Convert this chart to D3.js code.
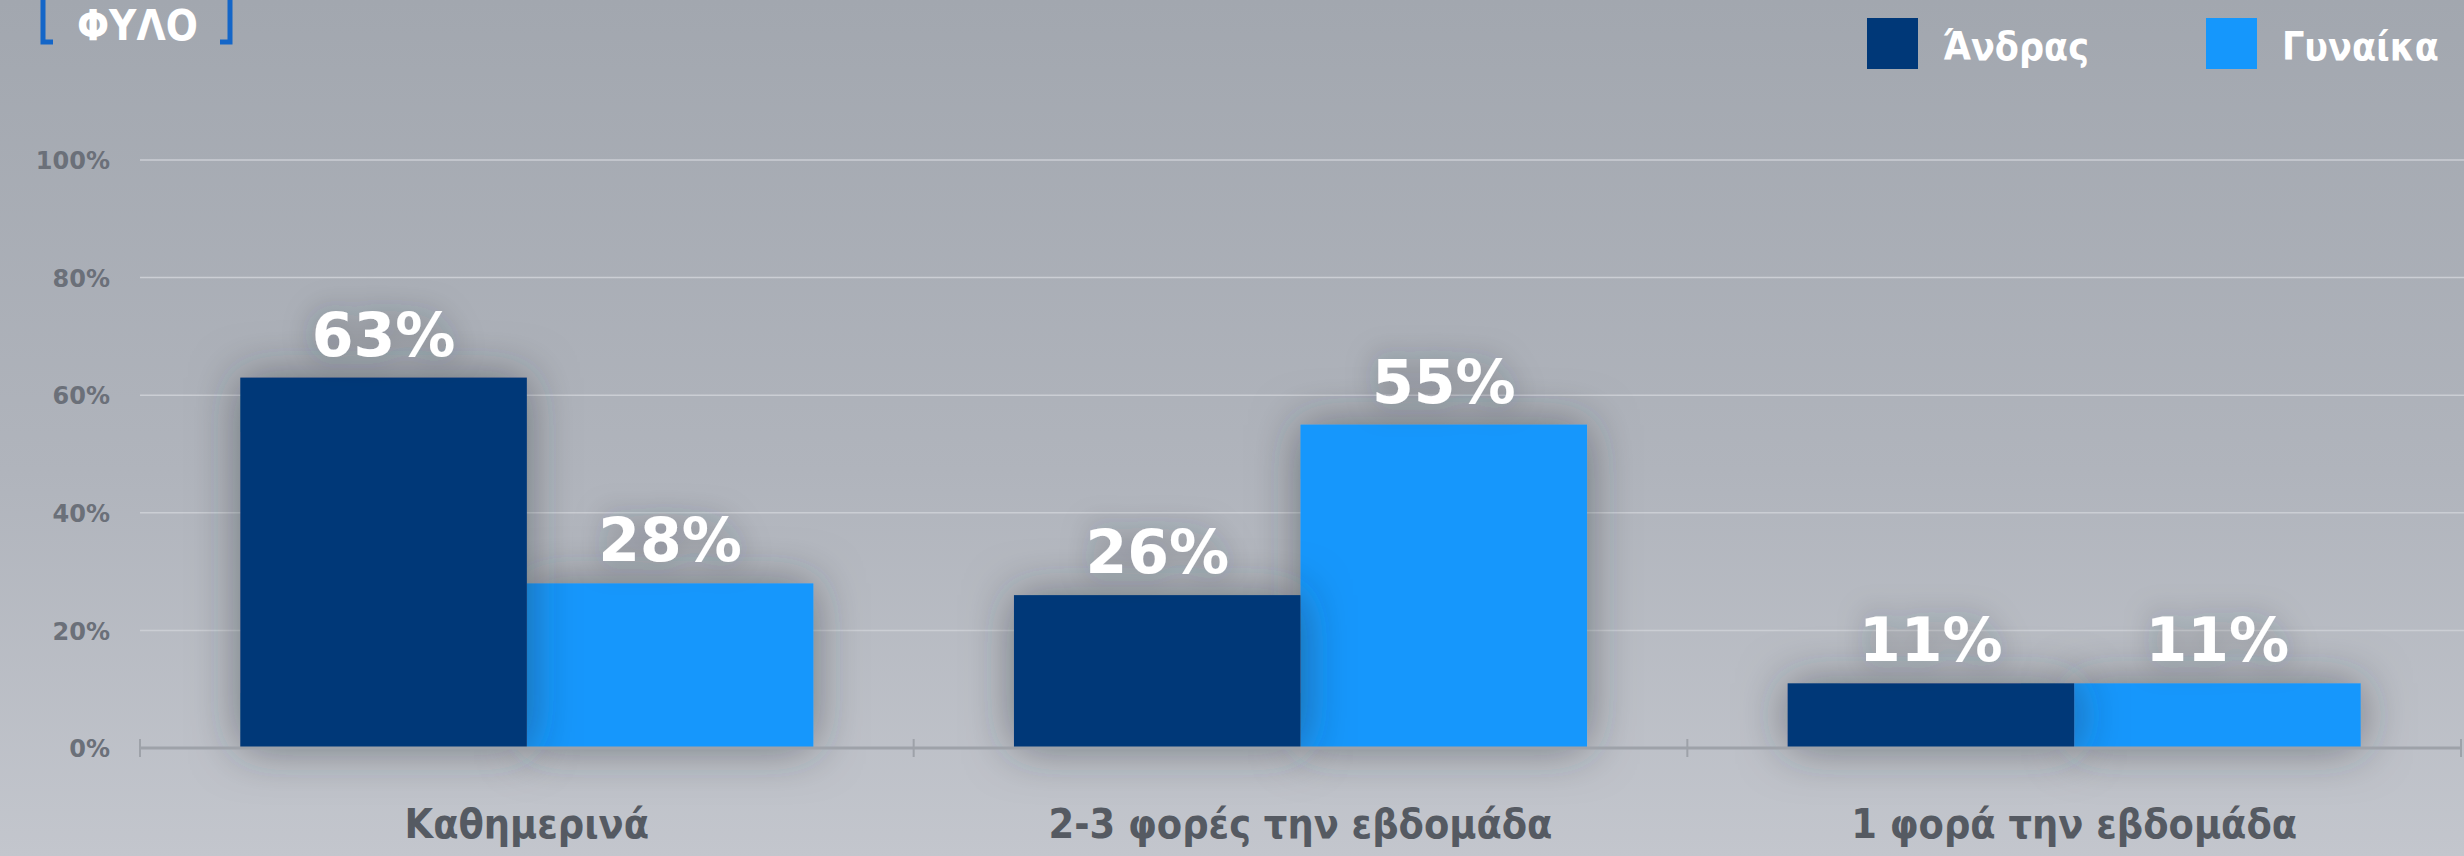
<!DOCTYPE html>
<html>
<head>
<meta charset="utf-8">
<script src="https://cdn.jsdelivr.net/npm/d3@7"></script>
<style>
  html, body { margin: 0; padding: 0; overflow: hidden; }
  svg { display: block; }
</style>
</head>
<body>
<script>
'use strict';

// data
var categories = ['Καθημερινά', '2-3 φορές την εβδομάδα', '1 φορά την εβδομάδα'];
var seriesNames = ['Άνδρας', 'Γυναίκα'];
var andras  = [63, 26, 11];
var gynaika = [28, 55, 11];
var yTicks  = [0, 20, 40, 60, 80, 100];
var title   = 'ΦΥΛΟ';

var seriesColors = ['#003878', '#1597fc'];

var width  = 2464,
    height = 856;

var margin = {left: 140, right: 3, top: 160, bottom: 108};

var svg = d3.select('body').append('svg')
    .attr('width', width)
    .attr('height', height);

var defs = svg.append('defs');

var bg = defs.append('linearGradient')
    .attr('id', 'bg')
    .attr('x1', 0).attr('y1', 0).attr('x2', 0).attr('y2', 1);
bg.append('stop').attr('offset', '0%').attr('stop-color', '#a2a7af');
bg.append('stop').attr('offset', '55%').attr('stop-color', '#b0b4bc');
bg.append('stop').attr('offset', '100%').attr('stop-color', '#c3c6cd');

function shadow(id, blur, opacity) {
  var f = defs.append('filter')
      .attr('id', id)
      .attr('filterUnits', 'userSpaceOnUse')
      .attr('x', 0).attr('y', 0)
      .attr('width', width).attr('height', height);
  f.append('feDropShadow')
      .attr('dx', 0).attr('dy', 0)
      .attr('stdDeviation', blur)
      .attr('flood-color', '#2a2e36')
      .attr('flood-opacity', opacity);
}
shadow('barShadow', 24, 0.5);
shadow('textShadow', 16, 0.4);

svg.append('rect')
    .attr('width', width)
    .attr('height', height)
    .attr('fill', 'url(#bg)');

// scales
var x0 = d3.scaleBand()
    .domain(categories)
    .range([margin.left, width - margin.right])
    .paddingInner(0)
    .paddingOuter(0);

var x1 = d3.scaleBand()
    .domain(seriesNames)
    .range([0, x0.bandwidth()])
    .paddingInner(0)
    .paddingOuter(0.35);

var y = d3.scaleLinear()
    .domain([0, 100])
    .range([height - margin.bottom, margin.top]);

var color = d3.scaleOrdinal()
    .domain(seriesNames)
    .range(seriesColors);

// grid
svg.append('g')
    .selectAll('line')
    .data(yTicks.filter(function(d) { return d > 0; }))
    .enter().append('line')
      .attr('x1', margin.left)
      .attr('x2', width)
      .attr('y1', function(d) { return y(d); })
      .attr('y2', function(d) { return y(d); })
      .attr('stroke', '#cbced4')
      .attr('stroke-width', 1.5);

// y labels
var yAxis = svg.append('g')
    .attr('transform', 'translate(' + (margin.left - 30) + ',0)')
    .call(d3.axisLeft(y)
        .tickValues(yTicks)
        .tickSize(0)
        .tickFormat(function(d) { return d + '%'; }));
yAxis.select('.domain').remove();
yAxis.selectAll('text')
    .attr('x', 0)
    .attr('dy', '0.36em')
    .attr('fill', '#6b7079')
    .style('font-family', '"DejaVu Sans", sans-serif')
    .style('font-weight', 'bold')
    .style('font-size', '24px');

// bars
var rows = categories.map(function(c, i) {
  return {category: c, values: [
    {key: seriesNames[0], value: andras[i]},
    {key: seriesNames[1], value: gynaika[i]}
  ]};
});

var groups = svg.append('g')
    .selectAll('g')
    .data(rows)
    .enter().append('g')
      .attr('transform', function(d) { return 'translate(' + x0(d.category) + ',0)'; });

// light bars first so the dark bar's shadow falls on them
[1, 0].forEach(function(k) {
  groups.append('rect')
      .datum(function(d) { return d.values[k]; })
      .attr('x', function(d) { return x1(d.key); })
      .attr('y', function(d) { return y(d.value); })
      .attr('width', x1.bandwidth())
      .attr('height', function(d) { return y(0) - y(d.value); })
      .attr('fill', function(d) { return color(d.key); })
      .attr('filter', 'url(#barShadow)');
});

groups.selectAll('text.value')
    .data(function(d) { return d.values; })
    .enter().append('text')
      .attr('class', 'value')
      .attr('x', function(d) { return x1(d.key) + x1.bandwidth() / 2; })
      .attr('y', function(d) { return y(d.value) - 22; })
      .attr('text-anchor', 'middle')
      .attr('fill', '#ffffff')
      .attr('filter', 'url(#textShadow)')
      .style('font-family', '"DejaVu Sans", sans-serif')
      .style('font-weight', 'bold')
      .style('font-size', '60px')
      .text(function(d) { return d.value + '%'; });

// x axis
var xAxis = svg.append('g')
    .attr('transform', 'translate(0,' + y(0) + ')');
xAxis.append('line')
    .attr('x1', margin.left)
    .attr('x2', width - margin.right)
    .attr('stroke', '#9ea2a9')
    .attr('stroke-width', 3);
xAxis.selectAll('line.tick')
    .data(categories.map(function(c) { return x0(c); }).concat([width - margin.right]))
    .enter().append('line')
      .attr('class', 'tick')
      .attr('x1', function(d) { return d; })
      .attr('x2', function(d) { return d; })
      .attr('y1', -9)
      .attr('y2', 9)
      .attr('stroke', '#9ea2a9')
      .attr('stroke-width', 2);

xAxis.selectAll('text')
    .data(categories)
    .enter().append('text')
      .attr('x', function(d) { return x0(d) + x0.bandwidth() / 2; })
      .attr('y', 90)
      .attr('text-anchor', 'middle')
      .attr('fill', '#555a62')
      .style('font-family', '"DejaVu Sans Condensed", "DejaVu Sans", sans-serif')
      .style('font-weight', 'bold')
      .style('font-size', '41px')
      .text(function(d) { return d; });

// legend
var legendX = [1867, 2206];
var legend = svg.append('g')
    .selectAll('g')
    .data(seriesNames)
    .enter().append('g')
      .attr('transform', function(d, i) { return 'translate(' + legendX[i] + ',18)'; });
legend.append('rect')
    .attr('width', 51)
    .attr('height', 51)
    .attr('fill', function(d) { return color(d); });
legend.append('text')
    .attr('x', 76)
    .attr('y', 42)
    .attr('fill', '#ffffff')
    .style('font-family', '"DejaVu Sans Condensed", "DejaVu Sans", sans-serif')
    .style('font-weight', 'bold')
    .style('font-size', '39px')
    .text(function(d) { return d; });

// title with brackets
var t = svg.append('g');
t.append('text')
    .attr('x', 77)
    .attr('y', 40)
    .attr('fill', '#ffffff')
    .style('font-family', '"DejaVu Sans Condensed", "DejaVu Sans", sans-serif')
    .style('font-weight', 'bold')
    .style('font-size', '42px')
    .text(title);
t.append('path')
    .attr('d', 'M43,-5 V42 H53')
    .attr('fill', 'none')
    .attr('stroke', '#1466c8')
    .attr('stroke-width', 5);
t.append('path')
    .attr('d', 'M230,-5 V42 H220')
    .attr('fill', 'none')
    .attr('stroke', '#1466c8')
    .attr('stroke-width', 5);
</script>
</body>
</html>
